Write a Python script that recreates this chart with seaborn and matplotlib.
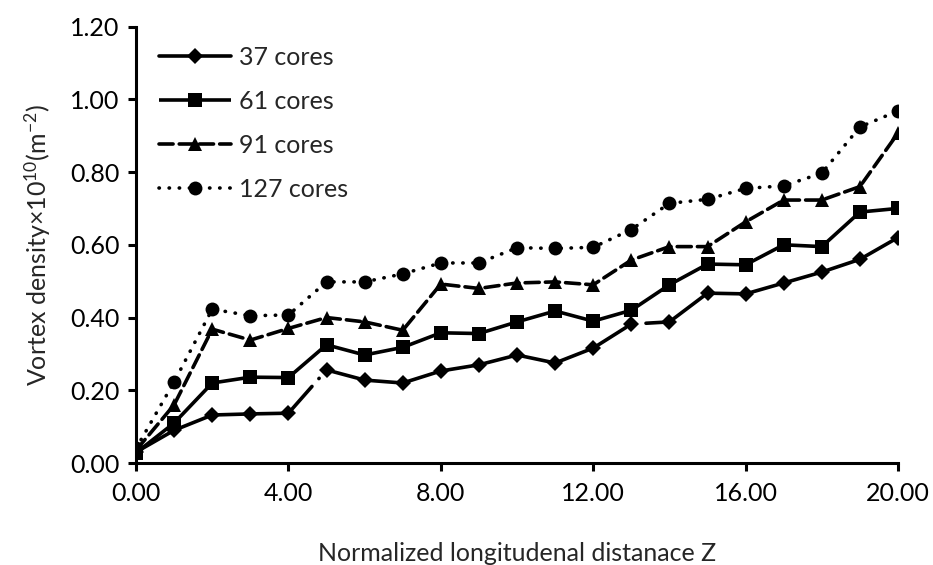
import numpy as np
import pandas as pd
import matplotlib
matplotlib.use("Agg")
import matplotlib.pyplot as plt
import seaborn as sns

# normalized longitudinal distance Z
z = list(range(0, 21))

# vortex density x 1e10 (m^-2)
cores_37 = [0.03, 0.09, 0.132, 0.135, 0.137, 0.256, 0.228, 0.22, 0.253, 0.27, 0.297,
            0.275, 0.316, 0.382, 0.388, 0.467, 0.465, 0.495, 0.525, 0.56, 0.62]
cores_61 = [0.028, 0.11, 0.22, 0.236, 0.235, 0.325, 0.297, 0.318, 0.358, 0.356, 0.388,
            0.418, 0.39, 0.42, 0.49, 0.547, 0.545, 0.60, 0.595, 0.69, 0.70]
cores_91 = [0.035, 0.16, 0.368, 0.338, 0.37, 0.40, 0.388, 0.365, 0.492, 0.48, 0.495,
            0.498, 0.49, 0.558, 0.595, 0.595, 0.663, 0.723, 0.723, 0.76, 0.907]
cores_127 = [0.04, 0.223, 0.423, 0.405, 0.407, 0.498, 0.498, 0.52, 0.55, 0.55, 0.592,
             0.59, 0.593, 0.642, 0.714, 0.725, 0.755, 0.762, 0.797, 0.924, 0.968]

LW = 2.6
series = [
    ("37 cores", cores_37, "D", 8, (32.6, (87.1, 2.9, 0.1, 2.9))),
    ("61 cores", cores_61, "s", 10, "-"),
    ("91 cores", cores_91, "^", 9.5, (0, (3.9, 1.7))),
    ("127 cores", cores_127, "o", 10, (0, (0.1, 2.7))),
]

sns.set_theme(style="white")
plt.rcParams["font.family"] = ["Lato", "DejaVu Sans"]
plt.rcParams["mathtext.fontset"] = "custom"
plt.rcParams["mathtext.rm"] = "Lato"
plt.rcParams["mathtext.it"] = "Lato"

fig = plt.figure(figsize=(9.33, 5.65), dpi=100)
ax = fig.add_axes([0.1458, 0.1805, 0.8167, 0.7725])

for name, vals, mk, ms, ls in series:
    sns.lineplot(x=z, y=vals, ax=ax, color="black", marker=mk, markersize=ms,
                 markeredgewidth=0, linewidth=LW, linestyle=ls, label=name,
                 dash_capstyle="round", solid_capstyle="butt")

ax.set_xlim(0, 20)
ax.set_ylim(0, 1.2)
ax.set_xticks(np.arange(0, 20.1, 4))
ax.set_xticklabels([f"{v:.2f}" for v in np.arange(0, 20.1, 4)])
ax.set_yticks(np.arange(0, 1.21, 0.2))
ax.set_yticklabels([f"{v:.2f}" for v in np.arange(0, 1.21, 0.2)])

for side in ["top", "right"]:
    ax.spines[side].set_visible(False)
for side in ["left", "bottom"]:
    ax.spines[side].set_color("black")
    ax.spines[side].set_linewidth(2.2)

ax.tick_params(axis="both", direction="out", length=6, width=2.2, colors="black",
               labelsize=18, labelcolor="black", bottom=True, left=True)
ax.tick_params(axis="x", pad=8)
ax.tick_params(axis="y", pad=6)

ax.set_xlabel("Normalized longitudenal distanace Z", fontsize=18, labelpad=26)
ax.set_ylabel(r"Vortex density×10$^{10}$(m$^{-2}$)", fontsize=18, labelpad=12)

leg = ax.legend(loc="upper left", bbox_to_anchor=(0.0, 1.008), frameon=False,
                fontsize=18, handlelength=2.9, labelspacing=0.84, handletextpad=0.3)

fig.savefig("out.png", dpi=100)
